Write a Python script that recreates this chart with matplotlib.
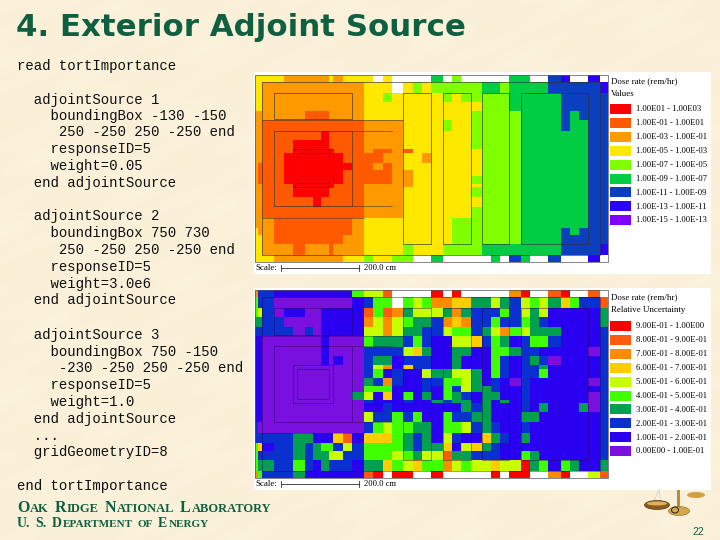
#!/usr/bin/env python3
"""Slide: exterior adjoint source input next to dose rate and uncertainty maps."""
import re

import numpy as np
import matplotlib
matplotlib.use("Agg")
import matplotlib.pyplot as plt
from matplotlib.colors import ListedColormap, BoundaryNorm
from matplotlib.patches import Ellipse, Rectangle

TITLE = "4. Exterior Adjoint Source"
CODE_LINES = [
    (66, "read tortImportance"),
    (100, "  adjointSource 1"),
    (116, "    boundingBox -130 -150"),
    (132, "     250 -250 250 -250 end"),
    (149, "    responseID=5"),
    (166, "    weight=0.05"),
    (183, "  end adjointSource"),
    (216, "  adjointSource 2"),
    (233, "    boundingBox 750 730"),
    (250, "     250 -250 250 -250 end"),
    (267, "    responseID=5"),
    (284, "    weight=3.0e6"),
    (300, "  end adjointSource"),
    (335, "  adjointSource 3"),
    (352, "    boundingBox 750 -150"),
    (368, "     -230 -250 250 -250 end"),
    (385, "    responseID=5"),
    (402, "    weight=1.0"),
    (419, "  end adjointSource"),
    (436, "  ..."),
    (452, "  gridGeometryID=8"),
    (486, "end tortImportance"),
]

# mesh edges of the map
col_edges = [14, 23, 37, 72, 102, 130, 165, 190, 213, 237, 250, 278, 307, 342, 370, 398, 427, 460, 488,
             516, 544, 578, 606, 634, 662, 697, 723, 750, 778, 813, 840, 868, 895, 933, 960, 988, 1015, 1050, 1073]
row_edges = [14, 35, 68, 95, 123, 150, 183, 210, 238, 250, 278, 300, 318, 342, 352, 380, 410, 443, 473, 495, 522, 556, 576]

dose_labels = ["1.00E01 - 1.00E03", "1.00E-01 - 1.00E01", "1.00E-03 - 1.00E-01", "1.00E-05 - 1.00E-03",
               "1.00E-07 - 1.00E-05", "1.00E-09 - 1.00E-07", "1.00E-11 - 1.00E-09", "1.00E-13 - 1.00E-11",
               "1.00E-15 - 1.00E-13"]
dose_codes = "ROAYLGBUV"
dose_colors = ["#ff0000", "#ff5a00", "#ff9900", "#ffe800", "#80ff00", "#00cc44", "#0a40c0", "#2a00ff", "#8000ff"]

dose_rows = [
    "YYYYAAAAAYAYYYWYWWWWGWLWWWWWGGWWBUWWUW",
    "YYAAAAAAAAAAAYYYWYLYLLLLLGGLGGGGBBBBBU",
    "YYAAAAAAAAAAAYYLYYYYYLYLLLLLGGGGGBBBBB",
    "YYAAAAAAAAAAAYYYYYYYYYYYYLLLGGGGGBBBBB",
    "AAAAAAOOOAAAAYYYYYYYYYYYLLLLLGGGGBGBBB",
    "AAOOOOOOOOOOOAAAAYYYYLYYLLLLLGGGGBGGBB",
    "AAOOOOOOROOOOAAAAYYYYYYYLLLLLGGGGGGGBB",
    "AAOOORRRROOOOAAAAYYYYYYYLLLLLGGGGGGGBB",
    "AAOOORRRRROOOAOOAOYYYYYYYLLLLGGGGGGGBB",
    "AAOORRRRRRROOOOAAYYAYYYYYLLLLGGGGGGGBB",
    "AOOORRRRRRRROOAOAYYYYYYYYLLLLGGGGGGGBB",
    "AOOORRRRRRROOOOOAAYYYYYYYLLLLGGGGGGGBB",
    "AOOORRRRRRROOOOOAAYYYYYYLLLLLGGGGGGGBB",
    "AAOOORRRRROOOAAAAAYYYYYYYLLLLGGGGGGGBB",
    "AAOOORRRROOOOAAAAYYYYYYYLLLLLGGGGGGGBB",
    "AAOOOOOROOOOOAAAAYYYYYYYYLLLLGGGGGGGBB",
    "AAOOOOOOOOOOOAAAAYYYYYYYLLLLLGGGGGGGBB",
    "AAAOOOOOOOOOAYYYYYYYYYLLLLLLLGGGGGGGBB",
    "YAAOOOOOOOOOAYYYYYYYYYLLLLLLLGGGGBGBBB",
    "YYAOOOOOOOOAAYYYYYYYYYLLLLLLLGGGGBBBBB",
    "YYAAAOAAAOAAAYYYYLYYYLLLLGGGGGGGGBBBBU",
    "YYYAAAAAAAAYYLYYLLWWGWWWWWGWBGWWBWWWUW",
]

unc_labels = ["9.00E-01 - 1.00E00", "8.00E-01 - 9.00E-01", "7.00E-01 - 8.00E-01", "6.00E-01 - 7.00E-01",
              "5.00E-01 - 6.00E-01", "4.00E-01 - 5.00E-01", "3.00E-01 - 4.00E-01", "2.00E-01 - 3.00E-01",
              "1.00E-01 - 2.00E-01", "0.00E00 - 1.00E-01"]
unc_codes = "ROAYCLGBUV"
unc_colors = ["#ff0000", "#ff5a10", "#ff8c00", "#ffcc00", "#c8ff00", "#40ff00", "#00a050", "#0a30d0", "#2a00f0", "#7a10e0"]

unc_rows = [
    "ABBUUUUUUUUULCCOWWWWRWRWWWWWARWWORWWOW",
    "LBB" + "V" * 9 + "UBLLWLCLAAYYGGCGBCLCGYLBBO",
    "LCBVUUVVUUUUUOLOAGCCCGAGBBBLBCGCUUUUUG",
    "GGBBVVVVUUUUUACACLGGBAYABBLBBLGBUUUUUG",
    "BBBBBVBVUUUUUCCACGGBBCLLBGCALCGGGUUUUB",
    "UUVVVVVVUVVVVLGGGBLBUUCCYBLGUBLLBUUUUB",
    "UUVVVVVVUVVVVBBBBCYGUUGGUULLGBBUUUUUVB",
    "UUVVVVVVUVUVVBGGUBBBUUGUUULBUBGBVUUUUB",
    "UU" + "V" * 11 + "BCAUYBBUUGUUULBUBBGUUUUUB",
    "UU" + "V" * 11 + "BLUBUUCGGCCGULBUBBLUUUUUB",
    "UU" + "V" * 11 + "GBABUUBBLLCGUBUVBUUUUUUVB",
    "UU" + "V" * 11 + "LLLUUUBULBCGGBUUBUUUUUUUB",
    "UU" + "V" * 10 + "GCUYULUGULGBUGGUUBUUUUUUVB",
    "UU" + "V" * 11 + "BUUUBUUGBGGUGUGUBUUUUUUVB",
    "UU" + "V" * 11 + "UUBUUUUUUUGBGUUUBUGUUUGVB",
    "UU" + "V" * 11 + "CBBLBLUULBBGGUUUGGUUUUUUB",
    "BV" + "V" * 11 + "BLCLLGGULLCBGBUUBUUUUUUUB",
    "BBBBBGGUUUYOUYYYLGBGUCBUUYGBUGUUUUUUUB",
    "LYUBBGBGLLBCBLLLLGBGGYUCYGBUUUUUUUUUUB",
    "LBBBBGBGGCCBBLLLCLGCCOGGBBBUULGUUUUUUB",
    "LGGBBLBUGBBBUGGYLCYLLACLCCYCCRGLULGUUG",
    "ALBBBGUUUUUUUORWRRWWRWWWWWRWRRWWARWWCO",
]

# geometry outlines (x0, x1, y0, y1) in the same units as the mesh edges
outline_boxes = [
    (37, 1050, 35, 556),
    (72, 307, 68, 148),
    (72, 307, 182, 408),
    (130, 248, 238, 352),
    (142, 237, 250, 340),
    (460, 543, 68, 522),
    (578, 662, 68, 522),
    (697, 778, 68, 522),
    (813, 1015, 68, 522),
]
outline_hlines = [(37, 460, 150), (307, 427, 182), (307, 427, 408), (37, 342, 443)]

PAGE = "#fbf1d9"
DARK_GREEN = "#0f6040"

fig = plt.figure(figsize=(7.2, 5.4), dpi=100, facecolor=PAGE)
ax = fig.add_axes([0, 0, 1, 1])

# soft mottling of the parchment page
gx, gy = np.meshgrid(np.arange(720), np.arange(540))
mott = (np.sin(gx / 17 + gy / 29) + np.sin(gx / 41 - gy / 13) + np.sin((gx + 2 * gy) / 9)) / 3
page_img = np.zeros((540, 720, 3))
page_img[..., 0] = (251 + 0.5 * mott) / 255
page_img[..., 1] = (241 + 1.5 * mott) / 255
page_img[..., 2] = (218 + 3 * mott) / 255
ax.imshow(page_img, extent=(0, 720, 540, 0), aspect="auto", zorder=0)
ax.set_xlim(0, 720)
ax.set_ylim(540, 0)
ax.axis("off")


def draw_map(rows, codes, colors, labels, subtitle, panel_top, map_y0, swatch_y, line_c, line_alpha):
    map_x0 = 250
    ax.add_patch(Rectangle((254, panel_top), 457, 202, fc="white", ec="none", zorder=1))
    xs = map_x0 + np.array(col_edges) / 3
    ys = map_y0 + np.array(row_edges) / 3
    cells = np.array([[(codes + "W").index(c) for c in r] for r in rows])
    cmap = ListedColormap(colors + ["white"])
    norm = BoundaryNorm(np.arange(len(colors) + 2) - 0.5, len(colors) + 1)
    ax.pcolormesh(xs, ys, cells, cmap=cmap, norm=norm, zorder=2, antialiased=False)
    ax.add_patch(Rectangle((xs[0], ys[0]), xs[-1] - xs[0], ys[-1] - ys[0], fc="none", ec="#555555", lw=0.5, zorder=3))

    # geometry lines on top of the mesh
    for x0, x1, y0, y1 in outline_boxes:
        ax.add_patch(Rectangle((map_x0 + x0 / 3, map_y0 + y0 / 3), (x1 - x0) / 3, (y1 - y0) / 3,
                               fc="none", ec=line_c, lw=0.55, alpha=line_alpha, zorder=3))
    for x0, x1, y in outline_hlines:
        ax.plot([map_x0 + x0 / 3, map_x0 + x1 / 3], [map_y0 + y / 3] * 2, color=line_c, lw=0.45, alpha=line_alpha, zorder=3)

    # scale bar
    bar_y = panel_top + 195.5
    ax.text(255, bar_y, "Scale:", fontsize=6.4, family="Liberation Serif", va="center", zorder=4)
    ax.plot([281, 359], [bar_y, bar_y], color="#333333", lw=0.6, zorder=4)
    for x in (281, 359):
        ax.plot([x, x], [bar_y - 3, bar_y + 3], color="#333333", lw=0.6, zorder=4)
    ax.text(364, bar_y, "200.0 cm", fontsize=6.2, family="Liberation Serif", va="center", zorder=4)

    # legend
    ax.text(611, panel_top + 9, "Dose rate (rem/hr)", fontsize=6.4, family="Liberation Serif", va="center", zorder=4)
    ax.text(611, panel_top + 21.5, subtitle, fontsize=6.4, family="Liberation Serif", va="center", zorder=4)
    for i, (lab, col) in enumerate(zip(labels, colors)):
        y = swatch_y + i * 13.9
        ax.add_patch(Rectangle((610, y), 20.5, 10, fc=col, ec="none", zorder=4))
        ax.text(635.5, y + 5.3, lab, fontsize=6.2, family="Liberation Serif", va="center", zorder=4)


draw_map(dose_rows, dose_codes, dose_colors, dose_labels, "Values", 72, 70, 104, "#303030", 0.8)
draw_map(unc_rows, unc_codes, unc_colors, unc_labels, "Relative Uncertainty", 288, 285.5, 321, "#200050", 0.55)

ax.text(16, 27, TITLE, fontsize=22.2, family="DejaVu Sans", weight="bold", color=DARK_GREEN, va="center")

for y, line in CODE_LINES:
    ax.text(17, y, line, fontsize=10.05, family="Liberation Mono", color="#101010", va="center")


def small_caps(x, y, text, big, small):
    """Write text in fake small caps, one run per case change."""
    renderer = fig.canvas.get_renderer()
    inv = ax.transData.inverted()
    for run in re.findall(r"[a-z]+|[A-Z.]+| ", text):
        if run == " ":
            x += big * 0.3 * 100 / 72
            continue
        t = ax.text(x, y, run.upper(), fontsize=small if run.islower() else big, family="Liberation Serif",
                    weight="bold", color=DARK_GREEN, va="baseline")
        box = t.get_window_extent(renderer)
        x = inv.transform((box.x1, box.y0))[0] + 0.9


small_caps(17, 512, "Oak Ridge National Laboratory", 11.5, 9.0)
small_caps(17, 527, "U. S. Department of Energy", 10, 8.0)

# balance clipart in the corner
ax.plot([653, 659], [503, 490], color="#d8d8d0", lw=0.8, zorder=5)
ax.plot([661, 659], [503, 490], color="#d8d8d0", lw=0.8, zorder=5)
ax.add_patch(Rectangle((677, 490), 3, 22, fc="#c08a30", ec="none", zorder=5))
ax.add_patch(Ellipse((657, 505), 25, 9, fc="#8a5a18", ec="#5a3a10", lw=0.5, zorder=5))
ax.add_patch(Ellipse((657, 503.5), 20, 4, fc="#e0b060", ec="none", zorder=5))
ax.add_patch(Ellipse((696, 495), 18, 6, fc="#d0a040", ec="none", zorder=5))
ax.add_patch(Ellipse((679, 511), 21, 9, fc="#d8a848", ec="#806020", lw=0.4, zorder=5))
ax.add_patch(Ellipse((675, 510), 7, 6, fc="none", ec="#202020", lw=0.7, zorder=5))

ax.text(698, 532, "22", fontsize=7.5, family="Liberation Sans", color=DARK_GREEN, ha="center", va="center")

fig.savefig("out.png", dpi=100, facecolor=PAGE)
